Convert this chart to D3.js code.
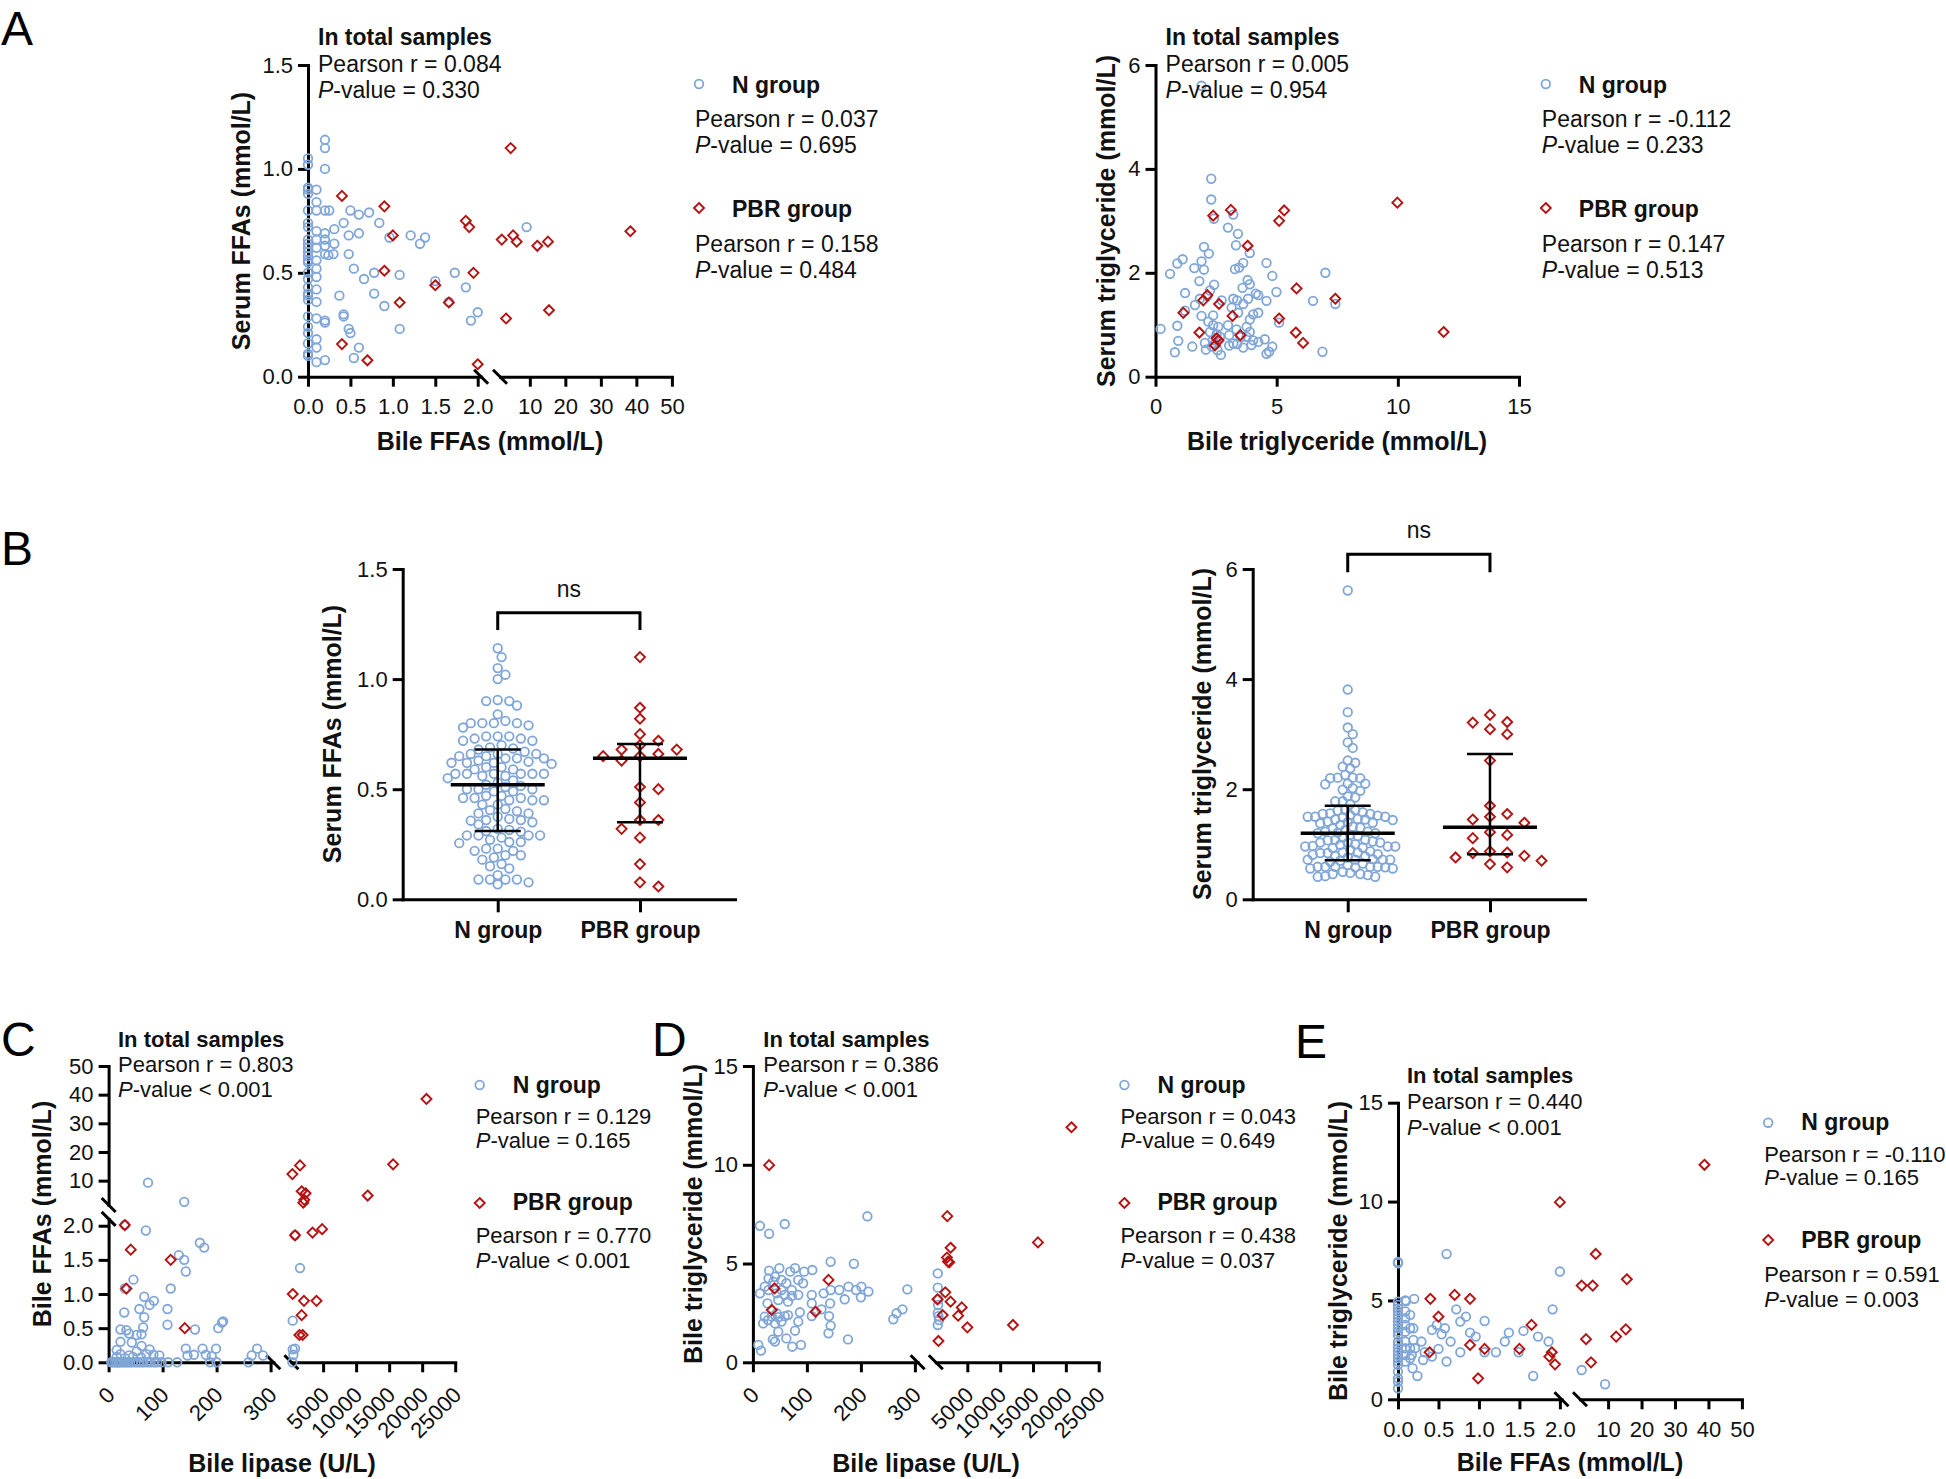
<!DOCTYPE html>
<html><head><meta charset="utf-8">
<script src="https://cdn.jsdelivr.net/npm/d3@7"></script>
<style>body{margin:0;background:#fff;} svg{display:block;}</style>
</head><body>
<script>
// ---------------- DATA ----------------
const groups = ["N group", "PBR group"];
// correlation statistics, panels A-left, A-right, C, D, E
const rTotal = ["0.084", "0.005", "0.803", "0.386", "0.440"];
const pTotal = ["= 0.330", "= 0.954", "< 0.001", "< 0.001", "< 0.001"];
const rN = ["0.037", "-0.112", "0.129", "0.043", "-0.110"];
const pN = ["= 0.695", "= 0.233", "= 0.165", "= 0.649", "= 0.165"];
const rP = ["0.158", "0.147", "0.770", "0.438", "0.591"];
const pP = ["= 0.484", "= 0.513", "< 0.001", "= 0.037", "= 0.003"];

// Panel A-left: [bile FFAs, serum FFAs]
const a1N = [[0,1.05],[0,1.02],[0,0.91],[0,0.90],[0,0.88],[0,0.80],[0,0.74],[0,0.72],[0,0.66],[0,0.64],[0,0.62],[0,0.60],[0,0.58],[0,0.56],[0,0.55],[0,0.50],[0,0.47],[0,0.43],[0,0.40],[0,0.39],[0,0.37],[0,0.29],[0,0.24],[0,0.21],[0,0.16],[0,0.11],[0,0.10],
 [0.1,0.90],[0.1,0.84],[0.1,0.80],[0.1,0.70],[0.1,0.66],[0.1,0.62],[0.1,0.56],[0.1,0.52],[0.1,0.48],[0.1,0.42],[0.1,0.36],[0.1,0.28],[0.1,0.18],[0.1,0.14],[0.1,0.07],
 [0.2,1.14],[0.2,1.10],[0.2,1.00],[0.2,0.80],[0.2,0.69],[0.2,0.66],[0.2,0.63],[0.2,0.59],[0.2,0.27],[0.2,0.26],[0.2,0.08],
 [0.25,0.80],[0.31,0.71],[0.31,0.64],[0.30,0.59],[0.24,0.585],[0.37,0.39],[0.42,0.74],[0.42,0.30],[0.42,0.29],[0.48,0.68],[0.48,0.59],[0.48,0.23],[0.50,0.21],[0.50,0.80],[0.54,0.52],[0.54,0.09],[0.60,0.78],[0.60,0.69],[0.60,0.14],[0.66,0.47],[0.72,0.79],[0.78,0.50],[0.78,0.40],[0.84,0.74],[0.90,0.34],[0.96,0.67],[1.08,0.49],[1.08,0.23],[1.21,0.68],[1.32,0.64],[1.38,0.67],[1.50,0.46],[1.66,0.36],[1.73,0.50],[1.86,0.43],[1.92,0.27],[2.0,0.31],[9.1,0.72]];
const a1P = [[0.40,0.87],[0.40,0.157],[0.70,0.079],[0.90,0.82],[0.90,0.51],[1.0,0.68],[1.08,0.357],[1.50,0.44],[1.66,0.357],[1.86,0.75],[1.90,0.72],[1.95,0.50],[2.0,0.06],[4.6,1.10],[2.1,0.66],[5.3,0.68],[6.3,0.65],[3.3,0.28],[12.1,0.63],[15.1,0.65],[15.4,0.32],[38.3,0.70]];

// Panel A-right: [bile TG, serum TG]
const a2N = [[1.90,5.60],[2.30,3.81],[2.30,3.41],[2.41,3.04],[3.21,3.12],[2.99,2.87],[3.40,2.75],[3.32,2.53],[3.89,2.38],[2.0,2.50],[2.2,2.37],[1.9,2.22],[2.0,2.06],[1.6,2.09],[1.12,2.26],[0.9,2.18],[0.6,1.98],[3.28,2.07],[3.45,2.10],[3.62,2.19],[4.58,2.19],[4.82,1.94],[7.01,2.0],[1.81,1.84],[2.42,1.77],[3.80,1.86],[3.59,1.71],[3.89,1.78],[4.14,1.60],[4.24,1.57],[1.22,1.61],[2.25,1.66],[4.99,1.63],[6.50,1.46],[7.42,1.40],[1.63,1.38],[1.83,1.50],[2.14,1.55],[2.73,1.47],[3.21,1.50],[3.37,1.47],[3.82,1.50],[4.58,1.46],[3.14,1.33],[3.62,1.40],[1.22,1.27],[1.90,1.17],[2.38,1.18],[3.41,1.23],[4.03,1.20],[4.24,1.23],[3.89,1.10],[0.21,0.92],[0.9,0.98],[2.18,1.06],[2.38,0.99],[2.59,0.96],[2.99,0.99],[3.34,0.91],[3.76,0.96],[3.89,0.86],[5.10,1.04],[0.94,0.69],[2.04,0.65],[2.36,0.70],[2.66,0.77],[3.04,0.80],[3.21,0.64],[3.51,0.76],[3.76,0.77],[4.03,0.70],[4.24,0.67],[4.51,0.72],[0.80,0.47],[1.52,0.58],[2.08,0.52],[2.32,0.58],[2.45,0.64],[2.56,0.51],[2.70,0.42],[3.04,0.60],[3.37,0.63],[3.62,0.56],[3.96,0.61],[4.58,0.44],[4.69,0.48],[4.82,0.58],[6.89,0.48],[2.52,0.82],[2.25,0.86]];
const a2P = [[2.38,3.10],[3.11,3.21],[5.31,3.20],[5.10,3.0],[9.98,3.35],[3.80,2.52],[5.82,1.70],[7.42,1.50],[1.97,1.47],[2.62,1.40],[1.15,1.23],[3.18,1.17],[5.10,1.12],[1.81,0.85],[2.52,0.74],[5.79,0.85],[6.09,0.65],[11.89,0.86],[2.14,1.57],[2.45,0.60],[3.50,0.80],[2.60,0.70]];

// Panel B: serum FFAs and serum TG by group
const bFfaN = [1.14,1.10,1.05,1.02,1.00,0.90,0.905,0.90,0.88,0.84,0.80,0.80,0.80,0.81,0.80,0.79,0.78,0.74,0.72,0.73,0.73,0.74,0.74,0.72,0.70,0.69,0.68,0.66,0.66,0.67,0.685,0.65,0.66,0.64,0.64,0.64,0.65,0.63,0.62,0.62,0.625,0.615,0.60,0.59,0.62,0.60,0.57,0.57,0.57,0.56,0.55,0.59,0.57,0.57,0.57,0.56,0.54,0.50,0.52,0.515,0.50,0.53,0.50,0.49,0.49,0.51,0.46,0.46,0.47,0.45,0.45,0.45,0.47,0.46,0.43,0.43,0.41,0.40,0.405,0.39,0.375,0.39,0.36,0.36,0.357,0.35,0.365,0.34,0.32,0.315,0.307,0.31,0.29,0.29,0.29,0.29,0.28,0.27,0.26,0.26,0.255,0.22,0.22,0.23,0.23,0.20,0.20,0.19,0.18,0.16,0.14,0.15,0.09,0.09,0.11,0.09,0.077,0.09,0.068];
const bFfaP = [1.10,0.87,0.82,0.75,0.72,0.70,0.68,0.68,0.65,0.66,0.65,0.63,0.50,0.51,0.44,0.36,0.36,0.32,0.28,0.16,0.077,0.058];
const bTgN = [5.61,3.81,3.40,3.12,3.0,2.85,2.75,2.52,2.48,2.38,2.41,2.20,2.21,2.20,2.21,2.26,2.10,2.10,2.09,1.97,1.99,2.02,1.87,1.85,1.78,1.78,1.73,1.62,1.61,1.62,1.58,1.50,1.50,1.52,1.55,1.45,1.50,1.56,1.53,1.49,1.55,1.45,1.44,1.39,1.35,1.32,1.38,1.41,1.29,1.26,1.23,1.21,1.20,1.23,1.20,1.17,1.15,1.03,1.08,1.03,1.08,1.05,1.07,1.03,0.96,0.94,0.96,0.97,0.99,0.96,0.93,0.84,0.82,0.85,0.81,0.84,0.85,0.79,0.78,0.87,0.72,0.73,0.72,0.70,0.72,0.68,0.72,0.59,0.59,0.56,0.59,0.59,0.58,0.56,0.59,0.58,0.62,0.46,0.50,0.41,0.42,0.41,0.44,0.48,0.46,1.12,1.30,1.46,0.90,0.65,1.00,1.40,0.76];
const bTgP = [3.35,3.22,3.21,3.09,3.0,2.52,1.70,1.55,1.50,1.45,1.39,1.22,1.17,1.11,0.85,0.87,0.84,0.79,0.76,0.70,0.64,0.58];
// [centre, lower, upper] per group
const bFfaSummary = [[0.52,0.31,0.68],[0.64,0.35,0.705]];
const bTgSummary = [[1.20,0.71,1.70],[1.31,0.82,2.64]];

// Panel C: [bile lipase, bile FFAs]
const cN = [[73,9.3],[140,2.6],[30,2.01],[69,1.93],[169,1.75],[177,1.68],[130,1.57],[140,1.50],[143,1.33],[1500,1.38],[750,1.86],[46,1.21],[30,1.08],[115,1.08],[66,0.96],[84,0.90],[76,0.84],[57,0.78],[109,0.78],[29,0.73],[66,0.66],[109,0.55],[64,0.51],[22,0.48],[33,0.47],[160,0.48],[203,0.50],[212,0.60],[210,0.58],[52,0.40],[38,0.42],[61,0.41],[22,0.30],[43,0.29],[76,0.19],[143,0.20],[174,0.20],[199,0.20],[275,0.20],[15,0.18],[61,0.24],[52,0.16],[400,0.61],[750,0.20],[400,0.19],[500,0.11],[146,0.10],[158,0.11],[180,0.11],[191,0.09],[265,0.10],[286,0.10],[83,0.11],[94,0.10],[15,0.08],[22,0.12],[30,0.06],[38,0.10],[45,0.08],[60,0.07],[70,0.12],
 [5,0],[8,0],[12,0],[15,0],[18,0],[20,0],[24,0],[28,0],[32,0],[36,0],[40,0],[45,0],[50,0],[55,0],[60,0],[65,0],[72,0],[78,0],[85,0],[90,0],[98,0],[110,0],[127,0],[188,0],[200,0],[259,0],[350,0]];
const cP = [[20650,38.5],[15600,15.7],[11750,4.8],[1500,15.3],[350,12.3],[1750,6.3],[2350,5.6],[2150,3.3],[2000,2.3],[4850,1.95],[3400,1.90],[750,1.86],[30,2.01],[41,1.65],[115,1.50],[33,1.08],[141,0.50],[400,1.0],[2100,0.90],[4000,0.90],[1750,0.69],[1400,0.40],[1900,0.40]];

// Panel D: [bile lipase, bile TG]
const dN = [[212,7.39],[13,6.91],[59,7.0],[30,6.51],[144,5.09],[187,4.99],[500,4.5],[49,4.76],[30,4.64],[78,4.76],[95,4.59],[110,4.67],[69,4.59],[29,4.25],[41,4.33],[53,4.17],[62,4.0],[84,4.17],[93,4.0],[13,3.49],[29,3.66],[44,3.49],[59,3.41],[72,3.36],[84,3.41],[109,3.41],[131,3.49],[144,3.66],[160,3.66],[177,3.83],[191,3.66],[201,3.83],[214,3.58],[170,3.19],[200,3.29],[286,3.69],[500,3.78],[600,3.19],[27,2.98],[47,3.15],[65,3.07],[109,2.98],[143,2.98],[127,2.68],[87,2.53],[22,2.31],[35,2.31],[47,2.28],[59,2.34],[41,1.97],[19,1.97],[84,2.06],[109,2.34],[141,2.34],[260,2.18],[277,2.68],[266,2.48],[600,2.34],[700,2.14],[500,1.89],[144,1.85],[78,1.6],[140,1.47],[47,1.55],[37,1.16],[62,1.21],[41,1.05],[176,1.16],[73,0.79],[89,0.88],[10,0.88],[15,0.59],[28,2.14],[53,2.06],[65,2.39],[44,2.48],[22,3.83],[38,4.08],[53,3.66],[72,3.66],[550,2.9],[500,2.5]];
const dP = [[20850,11.9],[30,9.98],[1950,7.4],[15750,6.07],[2450,5.8],[1900,5.3],[2050,5.1],[2250,5.06],[140,4.17],[40,3.74],[1650,3.54],[450,3.19],[2450,3.07],[4150,2.78],[1250,2.39],[3600,2.36],[35,2.65],[116,2.56],[5000,1.77],[11950,1.89],[600,1.08]];

// Panel E: [bile FFAs, bile TG]
const eN = [[0,6.88],[0,6.95],[0,4.94],[0,4.77],[0,4.60],[0,4.44],[0,4.27],[0,4.10],[0,3.93],[0,3.76],[0,3.59],[0,3.42],[0,3.25],[0,2.92],[0,2.75],[0,2.58],[0,2.41],[0,2.24],[0,2.07],[0,1.91],[0,1.74],[0,1.40],[0,1.06],[0,0.89],[0,0.56],
 [0.09,5.0],[0.09,4.44],[0.09,4.10],[0.09,3.76],[0.09,3.42],[0.09,2.92],[0.09,2.58],[0.09,2.24],[0.09,1.91],
 [0.15,4.27],[0.15,3.59],[0.15,2.58],[0.15,2.07],
 [0.60,7.35],[2.0,6.46],[1.91,4.55],[0.20,5.08],[0.10,4.97],[0.72,4.55],[0.84,4.18],[0.77,3.93],[1.07,3.96],[0.48,3.76],[0.42,3.51],[0.58,3.59],[0.54,3.29],[0.89,3.37],[0.96,3.17],[1.37,3.37],[1.55,3.46],[1.73,3.17],[1.86,2.92],[1.32,2.92],[0.65,2.92],[0.50,2.55],[0.29,2.92],[0.31,1.99],[0.19,3.59],[0.19,3.0],[0.21,2.58],[0.17,2.24],[0.18,1.57],[0.24,1.18],[0.42,2.16],[0.33,2.38],[0.60,1.91],[0.77,2.38],[1.07,2.38],[1.21,2.38],[1.49,2.38],[1.67,1.18],[2.1,1.48],[9.1,0.76]];
const eP = [[38.8,11.86],[2.0,9.97],[6.3,7.35],[2.1,5.75],[5.4,5.75],[15.6,6.07],[0.40,5.08],[0.70,5.28],[0.89,5.08],[0.50,4.18],[1.65,3.76],[15.3,3.54],[12.4,3.17],[3.4,3.04],[0.89,2.75],[0.39,2.38],[1.07,2.55],[1.50,2.55],[1.90,2.38],[1.87,2.16],[1.94,1.77],[4.9,1.87],[0.99,1.06]];

// ---------------- DRAWING ----------------
const W = 1946, H = 1479;
const FONT = "'Liberation Sans', Arial, Helvetica, sans-serif";
const BLUE = "#80a6d8", RED = "#b51212", INK = "#111";
const CR = 4.3, CSW = 1.8, DSW = 1.9;
const DIAMOND = "M0,-5L5,0L0,5L-5,0Z";
const svg = d3.select("body").append("svg").attr("width", W).attr("height", H).attr("font-family", FONT);
svg.append("rect").attr("width", W).attr("height", H).attr("fill", "#fff");

function text(g, x, y, s, o = {}) {
  return g.append("text").attr("x", x).attr("y", y)
    .attr("font-size", o.size || 23).attr("font-weight", o.bold ? "bold" : "normal")
    .attr("text-anchor", o.anchor || "start").attr("fill", INK).text(s);
}
function pText(g, x, y, rest, size) {
  const t = g.append("text").attr("x", x).attr("y", y).attr("font-size", size).attr("fill", INK);
  t.append("tspan").attr("font-style", "italic").text("P");
  t.append("tspan").text("-value " + rest);
}
function vTitle(g, x, y, s) {
  g.append("text").attr("transform", `translate(${x},${y}) rotate(-90)`).attr("dy", "0.36em")
    .attr("text-anchor", "middle").attr("font-size", 25).attr("font-weight", "bold").attr("fill", INK).text(s);
}
function styleAxis(sel, size = 22) {
  sel.attr("font-size", null).attr("font-family", null);
  sel.select(".domain").attr("stroke", "#000").attr("stroke-width", 3).attr("stroke-linecap", "square");
  sel.selectAll(".tick line").attr("stroke", "#000").attr("stroke-width", 3);
  sel.selectAll(".tick text").attr("font-size", size).attr("fill", INK);
}
function slash(g, cx, cy) {
  g.append("line").attr("x1", cx - 7).attr("y1", cy - 7).attr("x2", cx + 7).attr("y2", cy + 7)
    .attr("stroke", "#000").attr("stroke-width", 3);
}
function segScale(segs) {
  const sc = segs.map(s => d3.scaleLinear().domain(s.d).range(s.r));
  const f = v => (sc.length === 1 || v <= segs[0].d[1]) ? sc[0](v) : sc[1](v);
  f.scales = sc;
  return f;
}
function panelLetter(x, y, s) {
  svg.append("text").attr("x", x).attr("y", y).attr("font-size", 48).attr("fill", "#000").text(s);
}
function circles(g, data, fx, fy) {
  g.append("g").selectAll("circle").data(data).join("circle")
    .attr("cx", fx).attr("cy", fy).attr("r", CR)
    .attr("fill", "none").attr("stroke", BLUE).attr("stroke-width", CSW);
}
function diamonds(g, data, fx, fy) {
  g.append("g").selectAll("path").data(data).join("path")
    .attr("transform", d => `translate(${fx(d)},${fy(d)})`).attr("d", DIAMOND)
    .attr("fill", "none").attr("stroke", RED).attr("stroke-width", DSW);
}

function scatter(p) {
  const g = svg.append("g");
  const X = segScale(p.xs), Y = segScale(p.ys);
  const x0 = p.xs[0].r[0], y0 = p.ys[0].r[0];
  p.xs.forEach((s, i) => {
    const ax = g.append("g").attr("transform", `translate(0,${y0})`)
      .call(d3.axisBottom(X.scales[i]).tickValues(s.t).tickFormat(d3.format(s.f)).tickSize(10).tickSizeOuter(0).tickPadding(12));
    styleAxis(ax);
    if (p.rot) ax.selectAll(".tick text").attr("x", 0).attr("y", 0).attr("dy", 0)
      .attr("text-anchor", "end").attr("transform", "translate(7,34) rotate(-45)");
  });
  p.ys.forEach((s, i) => {
    const ay = g.append("g").attr("transform", `translate(${x0},0)`)
      .call(d3.axisLeft(Y.scales[i]).tickValues(s.t).tickFormat(d3.format(s.f)).tickSize(10).tickSizeOuter(0).tickPadding(5));
    styleAxis(ay);
  });
  if (p.xs.length > 1) [p.xs[0].r[1], p.xs[1].r[0]].forEach(cx => slash(g, cx, y0));
  if (p.ys.length > 1) [p.ys[0].r[1], p.ys[1].r[0]].forEach(cy => slash(g, x0, cy));

  circles(g, p.n, d => X(d[0]), d => Y(d[1]));
  diamonds(g, p.p, d => X(d[0]), d => Y(d[1]));

  // annotation (total samples)
  const fs = p.fs;
  text(g, p.tx, p.ty[0], "In total samples", { bold: true, size: fs });
  text(g, p.tx, p.ty[1], "Pearson r = " + rTotal[p.k], { size: fs });
  pText(g, p.tx, p.ty[2], pTotal[p.k], fs);
  // legend
  const [lx, ly] = p.leg, o = p.lo;
  circles(g, [[lx, ly]], d => d[0], d => d[1]);
  text(g, lx + 33, ly + o[0], groups[0], { bold: true, size: 23 });
  text(g, lx - 4, ly + o[1], "Pearson r = " + rN[p.k], { size: fs });
  pText(g, lx - 4, ly + o[2], pN[p.k], fs);
  diamonds(g, [[lx, ly + o[3]]], d => d[0], d => d[1]);
  text(g, lx + 33, ly + o[4], groups[1], { bold: true, size: 23 });
  text(g, lx - 4, ly + o[5], "Pearson r = " + rP[p.k], { size: fs });
  pText(g, lx - 4, ly + o[6], pP[p.k], fs);
  // titles
  text(g, p.xt[0], p.xt[1], p.xtitle, { bold: true, size: 25, anchor: "middle" });
  vTitle(g, p.yt[0], p.yt[1], p.ytitle);
}

function swarm(vals, y, cx, step, ax, ay) {
  const pts = vals.map(v => ({ v, y: y(v) })).sort((a, b) => a.y - b.y);
  const placed = [];
  for (const pt of pts) {
    for (let k = 0; k < 400; k++) {
      const off = k === 0 ? 0 : (k % 2 ? 1 : -1) * Math.ceil(k / 2) * step;
      const x = cx + off;
      const ok = placed.every(q => ((q.x - x) / ax) ** 2 + ((q.y - pt.y) / ay) ** 2 >= 1);
      if (ok) { pt.x = x; placed.push(pt); break; }
    }
  }
  return placed;
}

function swarmPanel(p) {
  const g = svg.append("g");
  const y = d3.scaleLinear().domain(p.yd).range([899.3, 569]);
  const x = d3.scalePoint().domain(groups).range(p.xr).padding(0.668);
  const ayG = g.append("g").attr("transform", `translate(${p.xr[0]},0)`)
    .call(d3.axisLeft(y).tickValues(p.yt).tickFormat(d3.format(p.yf)).tickSize(10).tickSizeOuter(0).tickPadding(5));
  styleAxis(ayG);
  const axG = g.append("g").attr("transform", `translate(0,899.3)`)
    .call(d3.axisBottom(x).tickSize(13).tickSizeOuter(0).tickPadding(9));
  styleAxis(axG, 23);
  axG.selectAll(".tick text").attr("font-weight", "bold");

  const nPts = swarm(p.n, y, x(groups[0]), p.ns[0], p.ns[1], p.ns[2]);
  const pPts = swarm(p.p, y, x(groups[1]), p.ps[0], p.ps[1], p.ps[2]);
  circles(g, nPts, d => d.x, d => d.y);
  diamonds(g, pPts, d => d.x, d => d.y);

  // centre line and error bars
  p.sum.forEach((s, i) => {
    const cx = x(groups[i]);
    g.append("line").attr("x1", cx).attr("x2", cx).attr("y1", y(s[1])).attr("y2", y(s[2])).attr("stroke", "#000").attr("stroke-width", 2.5);
    [s[1], s[2]].forEach(v => g.append("line").attr("x1", cx - 23).attr("x2", cx + 23).attr("y1", y(v)).attr("y2", y(v)).attr("stroke", "#000").attr("stroke-width", 2.5));
    g.append("line").attr("x1", cx - 47).attr("x2", cx + 47).attr("y1", y(s[0])).attr("y2", y(s[0])).attr("stroke", "#000").attr("stroke-width", 3.5);
  });
  // significance bracket
  const x1 = x(groups[0]), x2 = x(groups[1]);
  g.append("path").attr("d", `M${x1},${p.br[1]}V${p.br[0]}H${x2}V${p.br[1]}`)
    .attr("fill", "none").attr("stroke", "#000").attr("stroke-width", 3);
  text(g, (x1 + x2) / 2, p.br[0] - 16, "ns", { size: 23, anchor: "middle" });
  vTitle(g, p.ytx, 734, p.ytitle);
}

// ----- Panel A -----
panelLetter(1, 45, "A");
scatter({
  k: 0, n: a1N, p: a1P, fs: 23,
  xs: [{ d: [0, 2.04], r: [308, 481.1], t: [0, 0.5, 1, 1.5, 2], f: ".1f" },
       { d: [1.6, 50], r: [500, 671.9], t: [10, 20, 30, 40, 50], f: "d" }],
  ys: [{ d: [0, 1.5], r: [376.7, 65], t: [0, 0.5, 1, 1.5], f: ".1f" }],
  tx: 318, ty: [45, 71.5, 98], leg: [699, 84], lo: [9, 43, 69, 124, 133, 168, 194],
  xt: [490, 450], xtitle: "Bile FFAs (mmol/L)", yt: [241, 221], ytitle: "Serum FFAs (mmol/L)"
});
scatter({
  k: 1, n: a2N, p: a2P, fs: 23,
  xs: [{ d: [0, 15], r: [1155.5, 1519], t: [0, 5, 10, 15], f: "d" }],
  ys: [{ d: [0, 6], r: [376.7, 65], t: [0, 2, 4, 6], f: "d" }],
  tx: 1165.6, ty: [45, 71.5, 98], leg: [1545.8, 84], lo: [9, 43, 69, 124, 133, 168, 194],
  xt: [1337, 450], xtitle: "Bile triglyceride (mmol/L)", yt: [1106, 221], ytitle: "Serum triglyceride (mmol/L)"
});

// ----- Panel B -----
panelLetter(1, 565, "B");
swarmPanel({
  n: bFfaN, p: bFfaP, sum: bFfaSummary, yd: [0, 1.5], yt: [0, 0.5, 1, 1.5], yf: ".1f",
  xr: [402.7, 735], ns: [3.85, 8.4, 9.2], ps: [9.2, 18, 11],
  br: [612.7, 630], ytx: 331.7, ytitle: "Serum FFAs (mmol/L)"
});
swarmPanel({
  n: bTgN, p: bTgP, sum: bTgSummary, yd: [0, 6], yt: [0, 2, 4, 6], yf: "d",
  xr: [1252.7, 1585], ns: [2.5, 6.2, 7.4], ps: [8.6, 17, 10.5],
  br: [554.3, 572.3], ytx: 1201.7, ytitle: "Serum triglyceride (mmol/L)"
});

// ----- Panels C, D, E -----
panelLetter(1, 1056, "C");
panelLetter(652, 1056, "D");
panelLetter(1295, 1058, "E");
const loCDE = [8, 39, 63, 118, 125, 158, 183];
scatter({
  k: 2, n: cN, p: cP, fs: 22, rot: true,
  xs: [{ d: [0, 305], r: [108.6, 273.3], t: [0, 100, 200, 300], f: "d" },
       { d: [200, 25000], r: [291.4, 455.2], t: [5000, 10000, 15000, 20000, 25000], f: "d" }],
  ys: [{ d: [0, 2.1], r: [1362.3, 1218.9], t: [0, 0.5, 1, 1.5, 2], f: ".1f" },
       { d: [1.5, 50], r: [1205, 1066], t: [10, 20, 30, 40, 50], f: "d" }],
  tx: 118, ty: [1046.7, 1072.2, 1097.3], leg: [479.7, 1085], lo: loCDE,
  xt: [282, 1472], xtitle: "Bile lipase (U/L)", yt: [41.5, 1214], ytitle: "Bile FFAs (mmol/L)"
});
scatter({
  k: 3, n: dN, p: dP, fs: 22, rot: true,
  xs: [{ d: [0, 305], r: [752.9, 917.6], t: [0, 100, 200, 300], f: "d" },
       { d: [200, 25000], r: [935.8, 1098.7], t: [5000, 10000, 15000, 20000, 25000], f: "d" }],
  ys: [{ d: [0, 15], r: [1362.3, 1066], t: [0, 5, 10, 15], f: "d" }],
  tx: 763.3, ty: [1046.7, 1072.2, 1097.3], leg: [1124.4, 1085], lo: loCDE,
  xt: [926, 1472], xtitle: "Bile lipase (U/L)", yt: [692.8, 1214], ytitle: "Bile triglyceride (mmol/L)"
});
scatter({
  k: 4, n: eN, p: eP, fs: 22,
  xs: [{ d: [0, 2.02], r: [1398, 1561.5], t: [0, 0.5, 1, 1.5, 2], f: ".1f" },
       { d: [1.6, 50], r: [1580, 1741.9], t: [10, 20, 30, 40, 50], f: "d" }],
  ys: [{ d: [0, 15], r: [1399.3, 1102.7], t: [0, 5, 10, 15], f: "d" }],
  tx: 1407, ty: [1083.3, 1109.3, 1135], leg: [1768.2, 1122.7], lo: [7.5, 39, 62.5, 117.3, 125.5, 159, 184],
  xt: [1570, 1471], xtitle: "Bile FFAs (mmol/L)", yt: [1338, 1251], ytitle: "Bile triglyceride (mmol/L)"
});
</script>
</body></html>
